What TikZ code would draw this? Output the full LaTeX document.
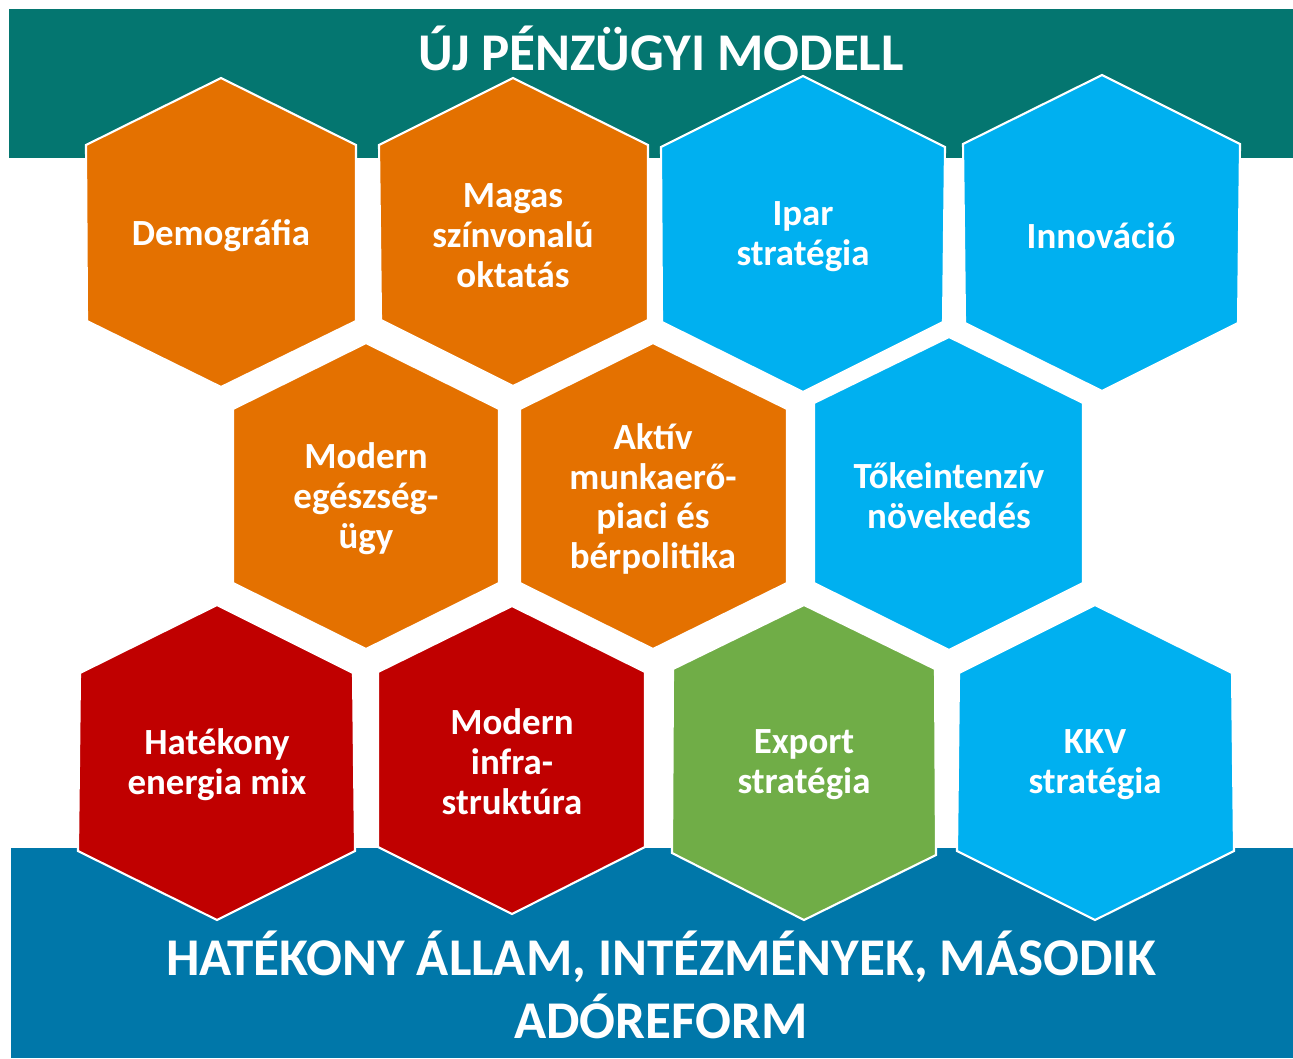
\documentclass[tikz,border=0pt]{standalone}
\usepackage{fontspec}
\setmainfont{Carlito}
\usepackage{tikz}
\usepackage{xcolor}

\definecolor{bandteal}{HTML}{047670}
\definecolor{bandblue}{HTML}{0077A9}
\definecolor{hexorange}{HTML}{E47100}
\definecolor{hexblue}{HTML}{00B0F0}
\definecolor{hexred}{HTML}{C00000}
\definecolor{hexgreen}{HTML}{70AD47}

\tikzset{
  hex/.style={draw=white,line width=1.2pt,line join=miter},
  hexlabel/.style={text=white,align=center,font=\fontsize{21}{22.7}\selectfont\bfseries},
  bandlabel/.style={text=white,align=center,font=\fontsize{30.2}{35.7}\selectfont\bfseries}
}

\begin{document}
\begin{tikzpicture}[x=0.02cm,y=-0.02cm]
\useasboundingbox (0,0) rectangle (1293,1058);

\fill[bandteal] (9,9) rectangle (1293,158);
\fill[bandblue] (11,848) rectangle (1293,1058);
\node[bandlabel] (title) at (661,48) {ÚJ PÉNZÜGYI MODELL};
\node[bandlabel] (allam) at (661,985) {HATÉKONY ÁLLAM, INTÉZMÉNYEK, MÁSODIK\\ADÓREFORM};

% felso sor
\draw[hex,fill=hexorange] (221,78) -- (356,145) -- (356,321) -- (221,387) -- (87,321) -- (86,145) -- cycle;
\node[hexlabel] (demografia) at (221,236) {Demográfia};
\draw[hex,fill=hexorange] (513,78) -- (648,145) -- (648,320) -- (513,386) -- (381,320) -- (379,145) -- cycle;
\node[hexlabel] (oktatas) at (513,236) {Magas\\színvonalú\\oktatás};
\draw[hex,fill=hexblue] (803,76) -- (945,147) -- (943,322) -- (803,392) -- (662,322) -- (661,147) -- cycle;
\node[hexlabel] (ipar) at (803,237) {Ipar\\stratégia};
\draw[hex,fill=hexblue] (1102,75) -- (1240,144) -- (1238,323) -- (1102,391) -- (965,323) -- (963,144) -- cycle;
\node[hexlabel] (innovacio) at (1101,236) {Innováció};

% kozepso sor
\draw[hex,fill=hexorange] (366,343) -- (499,409) -- (499,583) -- (366,649) -- (233,583) -- (233,409) -- cycle;
\node[hexlabel] (egeszseg) at (366,499) {Modern\\egészség-\\ügy};
\draw[hex,fill=hexorange] (653,343) -- (787,409) -- (787,583) -- (653,649) -- (520,583) -- (520,409) -- cycle;
\node[hexlabel] (munkaero) at (653,499) {Aktív\\munkaerő-\\piaci és\\bérpolitika};
\draw[hex,fill=hexblue] (949,337) -- (1083,403) -- (1083,583) -- (949,650) -- (814,583) -- (814,403) -- cycle;
\node[hexlabel] (toke) at (949,496) {Tőkeintenzív\\növekedés};

% also sor
\draw[hex,fill=hexred] (217,605) -- (353,673) -- (355,851) -- (217,920) -- (78,851) -- (80,673) -- cycle;
\node[hexlabel] (energia) at (217,765) {Hatékony\\energia mix};
\draw[hex,fill=hexred] (512,606) -- (645,672) -- (645,847) -- (512,914) -- (378,847) -- (378,672) -- cycle;
\node[hexlabel] (infra) at (512,762) {Modern\\infra-\\struktúra};
\draw[hex,fill=hexgreen] (804,605) -- (935,669) -- (936,855) -- (804,920) -- (672,853) -- (673,669) -- cycle;
\node[hexlabel] (export) at (804,765) {Export\\stratégia};
\draw[hex,fill=hexblue] (1095,605) -- (1232,673) -- (1234,851) -- (1095,920) -- (957,851) -- (959,673) -- cycle;
\node[hexlabel] (kkv) at (1095,765) {KKV\\stratégia};

\end{tikzpicture}
\end{document}
